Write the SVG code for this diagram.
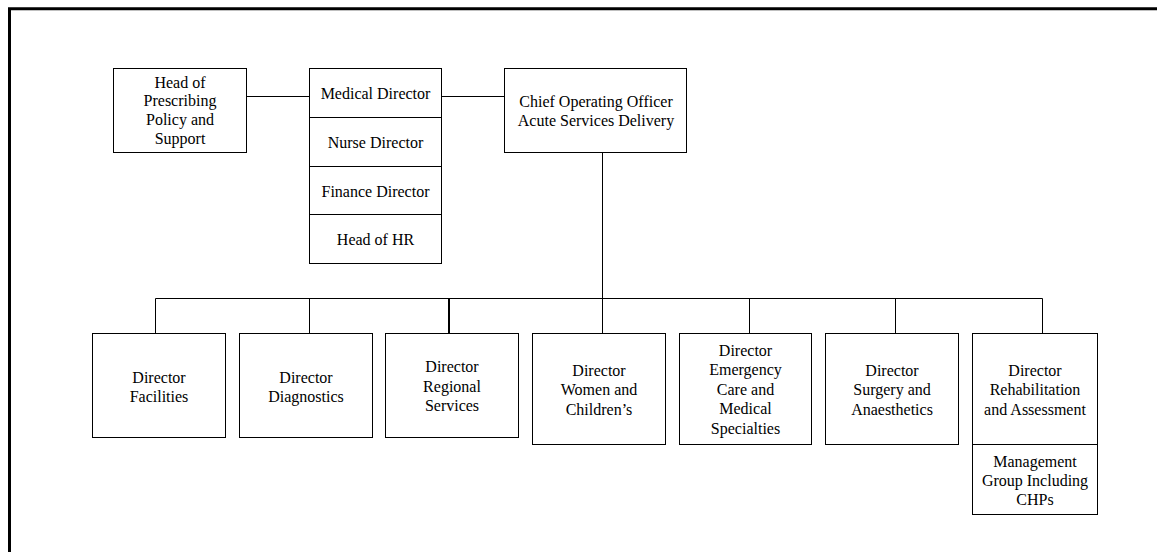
<svg xmlns="http://www.w3.org/2000/svg" width="1157" height="552" viewBox="0 0 1157 552">
  <style>
    .box { fill: #fff; stroke: #000; stroke-width: 1; }
    .div { fill: none; stroke: #000; stroke-width: 1; }
    .conn { fill: none; stroke: #000; stroke-width: 1; }
    .frame { fill: none; stroke: #000; stroke-width: 3; }
    text { font-family: "Liberation Serif", "Times New Roman", serif; font-size: 16px; fill: #000; text-anchor: middle; }
  </style>
  <rect x="0" y="0" width="1157" height="552" fill="#fff"/>
  <path class="frame" d="M9.5,552 V8.8 H1157"/>

  <g id="connectors">
    <path class="conn" d="M246.5,96.5 H309.5"/>
    <path class="conn" d="M441.5,96.5 H504.5"/>
    <path class="conn" d="M602.5,152.5 V298.5"/>
    <path class="conn" d="M155.5,298.5 H1042.5"/>
    <path class="conn" d="M155.5,298.5 V333.5"/>
    <path class="conn" d="M309.5,298.5 V333.5"/>
    <path class="conn" d="M449,298.5 V333.5" style="stroke-width:2"/>
    <path class="conn" d="M602.5,298.5 V333.5"/>
    <path class="conn" d="M749.5,298.5 V333.5"/>
    <path class="conn" d="M895.5,298.5 V333.5"/>
    <path class="conn" d="M1042.5,298.5 V333.5"/>
  </g>

  <g id="head-prescribing">
    <rect class="box" x="113.5" y="68.5" width="133" height="84"/>
    <text x="180" y="87.5">Head of</text>
    <text x="180" y="106.3">Prescribing</text>
    <text x="180" y="125.2">Policy and</text>
    <text x="180" y="144">Support</text>
  </g>

  <g id="executive-stack">
    <rect class="box" x="309.5" y="68.5" width="132" height="195"/>
    <path class="div" d="M309.5,117.5 H441.5 M309.5,166.5 H441.5 M309.5,214.5 H441.5"/>
    <g id="medical-director"><text x="375.5" y="99">Medical Director</text></g>
    <g id="nurse-director"><text x="375.5" y="148">Nurse Director</text></g>
    <g id="finance-director"><text x="375.5" y="196.7">Finance Director</text></g>
    <g id="head-hr"><text x="375.5" y="245">Head of HR</text></g>
  </g>

  <g id="coo">
    <rect class="box" x="504.5" y="68.5" width="182" height="84"/>
    <text x="596" y="107">Chief Operating Officer</text>
    <text x="596" y="125.7">Acute Services Delivery</text>
  </g>

  <g id="dir-facilities">
    <rect class="box" x="92.5" y="333.5" width="133" height="104"/>
    <text x="159" y="383.3">Director</text>
    <text x="159" y="402">Facilities</text>
  </g>

  <g id="dir-diagnostics">
    <rect class="box" x="239.5" y="333.5" width="133" height="104"/>
    <text x="306" y="383.3">Director</text>
    <text x="306" y="402">Diagnostics</text>
  </g>

  <g id="dir-regional">
    <rect class="box" x="385.5" y="333.5" width="133" height="104"/>
    <text x="452" y="372">Director</text>
    <text x="452" y="391.5">Regional</text>
    <text x="452" y="410.7">Services</text>
  </g>

  <g id="dir-women">
    <rect class="box" x="532.5" y="333.5" width="133" height="111"/>
    <text x="599" y="376">Director</text>
    <text x="599" y="395.3">Women and</text>
    <text x="599" y="415">Children’s</text>
  </g>

  <g id="dir-emergency">
    <rect class="box" x="679.5" y="333.5" width="132" height="111"/>
    <text x="745.5" y="355.7">Director</text>
    <text x="745.5" y="375.3">Emergency</text>
    <text x="745.5" y="395">Care and</text>
    <text x="745.5" y="414.3">Medical</text>
    <text x="745.5" y="434">Specialties</text>
  </g>

  <g id="dir-surgery">
    <rect class="box" x="825.5" y="333.5" width="133" height="111"/>
    <text x="892" y="376">Director</text>
    <text x="892" y="395.3">Surgery and</text>
    <text x="892" y="414.7">Anaesthetics</text>
  </g>

  <g id="dir-rehab">
    <rect class="box" x="972.5" y="333.5" width="125" height="111"/>
    <text x="1035" y="376">Director</text>
    <text x="1035" y="395">Rehabilitation</text>
    <text x="1035" y="414.7">and Assessment</text>
  </g>

  <g id="mgmt-group">
    <rect class="box" x="972.5" y="444.5" width="125" height="70"/>
    <text x="1035" y="466.7">Management</text>
    <text x="1035" y="486">Group Including</text>
    <text x="1035" y="505">CHPs</text>
  </g>
</svg>
